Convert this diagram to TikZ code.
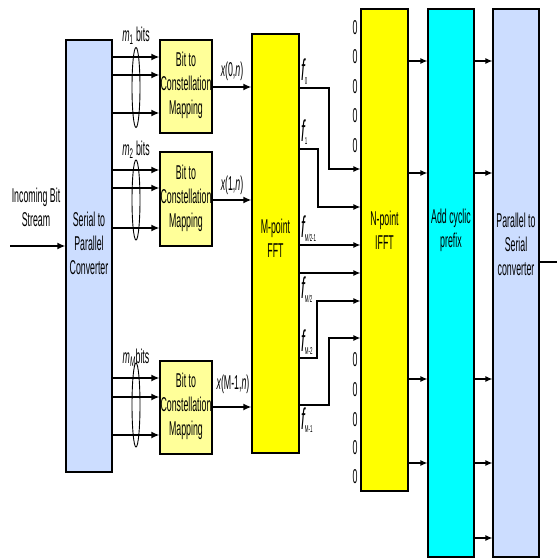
\documentclass[tikz,border=0pt]{standalone}
\usepackage{fontspec}
\setmainfont{Liberation Sans}[FakeStretch=0.44]
\usetikzlibrary{arrows.meta}
\definecolor{lblue}{RGB}{204,221,255}
\definecolor{pyel}{RGB}{255,255,153}
\definecolor{yel}{RGB}{255,255,0}
\definecolor{cyn}{RGB}{0,255,255}
\tikzset{
  box/.style={draw=black, line width=1.2pt, inner sep=0pt},
  txt/.style={font=\fontsize{20}{24}\selectfont, align=center, inner sep=0pt},
  ftxt/.style={font=\fontsize{30}{30}\selectfont\itshape, inner sep=0pt},
  zero/.style={font=\fontsize{20}{20}\selectfont, inner sep=0pt},
  thk/.style={line width=1.8pt, -{Latex[length=8pt,width=7pt]}},
  thn/.style={line width=1.2pt, -{Latex[length=7pt,width=6pt]}},
  ln/.style={line width=1.2pt},
}
\newcommand{\fl}[1]{f\textsubscript{\upshape\fontsize{10}{10}\selectfont #1}}
\begin{document}
\begin{tikzpicture}[x=1pt,y=-1pt]
\useasboundingbox (0,0) rectangle (557,559);
% boxes
\node[box, fill=lblue, minimum width=46pt, minimum height=432pt] (sp) at (89,256) {};
\node[box, fill=pyel, minimum width=52pt, minimum height=93pt] (b1) at (186,86.5) {};
\node[box, fill=pyel, minimum width=52pt, minimum height=94pt] (b2) at (186,199) {};
\node[box, fill=pyel, minimum width=52pt, minimum height=93pt] (b3) at (186,407.5) {};
\node[box, fill=yel, minimum width=47pt, minimum height=419pt] (fft) at (275.5,243.5) {};
\node[box, fill=yel, minimum width=47pt, minimum height=482pt] (ifft) at (384.5,250) {};
\node[box, fill=cyn, minimum width=46pt, minimum height=548pt] (cp) at (451,283) {};
\node[box, fill=lblue, minimum width=46pt, minimum height=548pt] (ps) at (516,283) {};
% box texts
\node[txt] (tsp) at (89,243) {Serial to\\Parallel\\Converter};
\node[txt] (tb1) at (186,85) {Bit to\\Constellation\\Mapping};
\node[txt] (tb2) at (186,198) {Bit to\\Constellation\\Mapping};
\node[txt] (tb3) at (186,406) {Bit to\\Constellation\\Mapping};
\node[txt] (tfft) at (275.5,238) {M-point\\FFT};
\node[txt] (tifft) at (384.5,230) {N-point\\IFFT};
\node[txt] (tcp) at (451,230) {Add cyclic\\prefix};
\node[txt] (tps) at (516,244) {Parallel to\\Serial\\converter};
% input
\node[txt] (tin) at (36,207) {Incoming Bit\\Stream};
\coordinate (in) at (10,246);
\draw[thk] (in) -- (sp.west |- in);
% S/P to mapping
\foreach \y in {57,75,113} \draw[thk] (sp.east |- 0,\y) -- (b1.west |- 0,\y);
\foreach \y in {170,188,228} \draw[thk] (sp.east |- 0,\y) -- (b2.west |- 0,\y);
\foreach \y in {378,397,435} \draw[thk] (sp.east |- 0,\y) -- (b3.west |- 0,\y);
\draw[line width=0.9pt] (136,87.5) ellipse (4 and 40);
\draw[line width=0.9pt] (136,200) ellipse (4 and 40);
\draw[line width=0.9pt] (136,405) ellipse (4 and 42);
\node[txt] (m1) at (136,36) {\itshape m\textsubscript{\upshape 1}\upshape\ bits};
\node[txt] (m2) at (136,150) {\itshape m\textsubscript{\upshape 2}\upshape\ bits};
\node[txt] (mM) at (136,358) {\itshape m\textsubscript{M}\upshape bits};
% mapping to FFT
\draw[thk] (b1.east |- 0,87) -- (fft.west |- 0,87);
\draw[thk] (b2.east |- 0,200) -- (fft.west |- 0,200);
\draw[thk] (b3.east |- 0,407) -- (fft.west |- 0,407);
\node[txt] (x0) at (232,71) {\itshape x\upshape(0,\itshape n\upshape)};
\node[txt] (x1) at (232,185) {\itshape x\upshape(1,\itshape n\upshape)};
\node[txt] (xM) at (233,384) {\itshape x\upshape(M-1,\itshape n\upshape)};
% FFT to IFFT
\draw[thn] (fft.east |- 0,88) -- (329,88) -- (329,169) -- (ifft.west |- 0,169);
\draw[thn] (fft.east |- 0,149) -- (318,149) -- (318,207) -- (ifft.west |- 0,207);
\draw[thn] (fft.east |- 0,245) -- (ifft.west |- 0,245);
\draw[thn] (fft.east |- 0,273) -- (ifft.west |- 0,273);
\draw[thn] (fft.east |- 0,358) -- (317,358) -- (317,301) -- (ifft.west |- 0,301);
\draw[thn] (fft.east |- 0,405) -- (329,405) -- (329,338) -- (ifft.west |- 0,338);
\node[ftxt, anchor=west] (f0) at (301,72) {\fl{0}};
\node[ftxt, anchor=west] (f1) at (301,132) {\fl{1}};
\node[ftxt, anchor=west] (f2) at (301,229) {\fl{M/2-1}};
\node[ftxt, anchor=west] (f3) at (301,290) {\fl{M/2}};
\node[ftxt, anchor=west] (f4) at (301,342) {\fl{M-2}};
\node[ftxt, anchor=west] (f5) at (301,420) {\fl{M-1}};
% zeros
\foreach \y [count=\i] in {28,57,87,116,146,360,390,420,448,477}
  \node[zero] (z\i) at (355,\y) {0};
% IFFT to CP to PS
\foreach \y in {61,173,379,463} \draw[thn] (ifft.east |- 0,\y) -- (cp.west |- 0,\y);
\foreach \y in {61,173,379,463,538} \draw[thn] (cp.east |- 0,\y) -- (ps.west |- 0,\y);
\coordinate (out) at (557,262);
\draw[ln] (ps.east |- out) -- (out);
\end{tikzpicture}
\end{document}
